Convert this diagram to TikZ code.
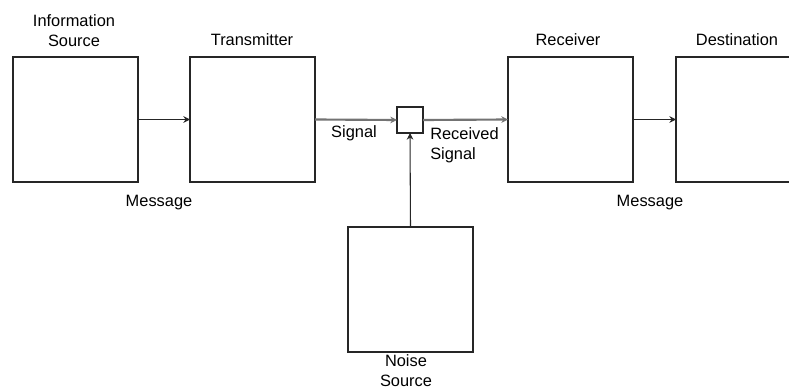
\documentclass[tikz,border=0pt]{standalone}
\usepackage{fontspec}
\setmainfont{Liberation Sans}
\usetikzlibrary{arrows.meta}
\begin{document}
\begin{tikzpicture}[x=0.75pt,y=-0.75pt,
  blk/.style={draw=black!85,line width=0.8pt,minimum width=93.75pt,minimum height=93.75pt,inner sep=0pt,outer sep=0pt},
  sumbox/.style={draw=black!85,line width=0.8pt,minimum width=19.5pt,minimum height=19.5pt,inner sep=0pt,outer sep=0pt},
  lbl/.style={font=\fontsize{12.3}{15}\selectfont,inner sep=0pt,anchor=base,align=center},
  lbll/.style={font=\fontsize{12.3}{15}\selectfont,inner sep=0pt,anchor=base west,align=left},
  thin/.style={draw=black!85,line width=0.8pt,-{Stealth[length=5pt,width=5pt]}},
  sig/.style={draw=black!55,line width=1.6pt,-{Stealth[length=5pt,width=5pt]}}]
\useasboundingbox[fill=white] (0,0) rectangle (789,388);
\node[blk] (src) at (75.5,119.5) {};
\node[blk] (tx) at (252.5,119.5) {};
\node[sumbox] (sum) at (410,120) {};
\node[blk] (rx) at (570.5,119.5) {};
\node[blk] (dst) at (738.5,119.5) {};
\node[blk] (noise) at (410.5,289.5) {};
\draw[thin] (src.east) -- (tx.west);
\draw[sig] (tx.east) -- (sum.west);
\draw[sig] (sum.east) -- (rx.west);
\draw[thin] (rx.east) -- (dst.west);
\draw[thin] (noise.north) -- (sum.south);
\node[lbl] (tsrc) at (74,47) {Information\\Source};
\node[lbl] (ttx) at (252,46) {Transmitter};
\node[lbl] (tsig) at (354,138) {Signal};
\node[lbl] (tmsg1) at (159,207) {Message};
\node[lbll] (trs) at (430,160) {Received\\Signal};
\node[lbl] (trx) at (568,46) {Receiver};
\node[lbl] (tdst) at (737,46) {Destination};
\node[lbl] (tmsg2) at (650,207) {Message};
\node[lbl] (tnoise) at (406,386) {Noise\\Source};
\end{tikzpicture}
\end{document}
